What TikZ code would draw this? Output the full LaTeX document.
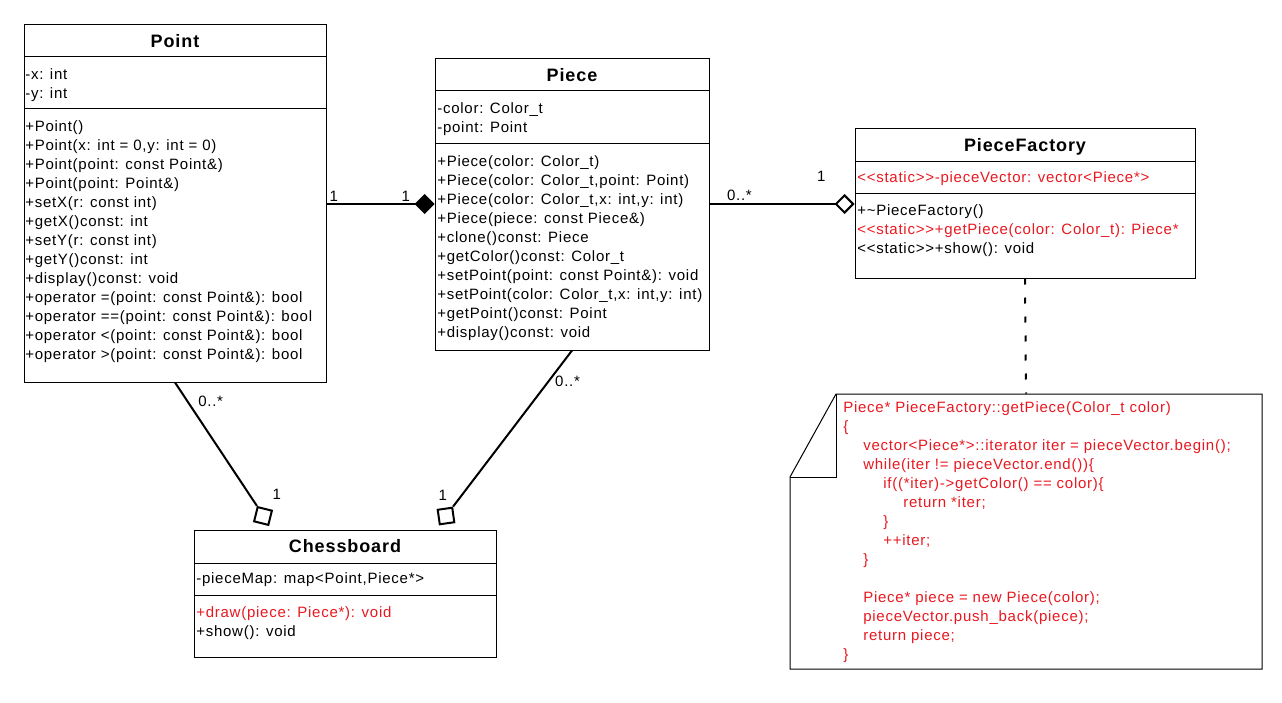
\documentclass[tikz,border=0pt]{standalone}
\usepackage{fontspec}
\setmainfont{Liberation Sans}[Ligatures=TeXOff, LetterSpace=5]
\usetikzlibrary{arrows.meta, fit}
\definecolor{codered}{RGB}{232,24,32}

\begin{document}
\begin{tikzpicture}[x=0.75pt, y=-0.75pt]

    \tikzstyle{classbox} = [draw, inner sep=0, line width=0.75pt];
    \tikzstyle{classtitle} = [anchor=base, inner sep=0, font=\fontsize{13.5}{16}\selectfont\bfseries];
    \tikzstyle{member} = [anchor=base west, inner sep=0, align=left, font=\fontsize{11.25}{14.25}\selectfont];
    \tikzstyle{mult} = [inner sep=1.5pt, font=\fontsize{11.25}{14.25}\selectfont];
    \tikzstyle{sqnode} = [draw, line width=1.5pt, minimum size=11pt, inner sep=0];
    \tikzstyle{link} = [line width=1.5pt];
    \tikzstyle{comp} = [line width=1.5pt, -{Diamond[length=15pt, width=15pt]}];
    \tikzstyle{agg} = [line width=1.5pt, -{Diamond[open, length=15pt, width=15pt]}];
    \tikzstyle{dashline} = [line width=1.5pt, dash pattern=on 4.5pt off 9.75pt];

    \useasboundingbox (0,0) rectangle (1282,703);

    % Point (member nodes sit on the baseline of their last line)
    \node[classbox, fit={(24,24) (326,382)}] (point) {};
    \draw (24,56) -- (326,56);
    \draw (24,108) -- (326,108);
    \node[classtitle] (pointname) at (175,47) {Point};
    \node[member] (pointattr) at (25,98) {-x: int\\-y: int};
    \node[member] (pointops) at (25,359) {+Point()\\+Point(x: int = 0,y: int = 0)\\+Point(point: const Point\&)\\+Point(point: Point\&)\\+setX(r: const int)\\+getX()const: int\\+setY(r: const int)\\+getY()const: int\\+display()const: void\\+operator =(point: const Point\&): bool\\+operator ==(point: const Point\&): bool\\+operator <(point: const Point\&): bool\\+operator >(point: const Point\&): bool};

    % Piece
    \node[classbox, fit={(435,58) (709,350)}] (piece) {};
    \draw (435,90) -- (709,90);
    \draw (435,143) -- (709,143);
    \node[classtitle] (piecename) at (572,81) {Piece};
    \node[member] (pieceattr) at (437,132) {-color: Color\_t\\-point: Point};
    \node[member] (pieceops) at (437,337) {+Piece(color: Color\_t)\\+Piece(color: Color\_t,point: Point)\\+Piece(color: Color\_t,x: int,y: int)\\+Piece(piece: const Piece\&)\\+clone()const: Piece\\+getColor()const: Color\_t\\+setPoint(point: const Point\&): void\\+setPoint(color: Color\_t,x: int,y: int)\\+getPoint()const: Point\\+display()const: void};

    % PieceFactory
    \node[classbox, fit={(855,128) (1195,278)}] (factory) {};
    \draw (855,161) -- (1195,161);
    \draw (855,193) -- (1195,193);
    \node[classtitle] (factoryname) at (1025,151) {PieceFactory};
    \node[member, text=codered] (factoryattr) at (857,182) {<<static>>-pieceVector: vector<Piece*>};
    \node[member] (factoryops) at (857,253) {+\textasciitilde PieceFactory()\\\textcolor{codered}{<<static>>+getPiece(color: Color\_t): Piece*}\\<<static>>+show(): void};

    % Chessboard
    \node[classbox, fit={(194,530) (496,657)}] (chess) {};
    \draw (194,563) -- (496,563);
    \draw (194,595) -- (496,595);
    \node[classtitle] (chessname) at (345,552) {Chessboard};
    \node[member] (chessattr) at (196,583) {-pieceMap: map<Point,Piece*>};
    \node[member] (chessops) at (196,636) {\textcolor{codered}{+draw(piece: Piece*): void}\\+show(): void};

    % note
    \node[fit={(790,394) (1262,669)}, inner sep=0] (note) {};
    \draw[line width=0.75pt] (836,394) -- (1262,394) -- (1262,669) -- (790,669) -- (790,477) -- cycle;
    \draw[line width=0.75pt] (836,394) -- (836,477) -- (790,477);
    \node[member, text=codered] (notetext) at (843,659) {Piece* PieceFactory::getPiece(Color\_t color)\\\{\\\hspace*{15pt}vector<Piece*>::iterator iter = pieceVector.begin();\\\hspace*{15pt}while(iter != pieceVector.end())\{\\\hspace*{30pt}if((*iter)->getColor() == color)\{\\\hspace*{45pt}return *iter;\\\hspace*{30pt}\}\\\hspace*{30pt}++iter;\\\hspace*{15pt}\}\\[14.25pt]\hspace*{15pt}Piece* piece = new Piece(color);\\\hspace*{15pt}pieceVector.push\_back(piece);\\\hspace*{15pt}return piece;\\\}};

    % squares at the chessboard
    \node[sqnode, rotate=-14] (sqL) at (263,516) {};
    \node[sqnode, rotate=8] (sqR) at (446,516) {};

    % connectors
    \draw[comp] (piece.west -| point.east) -- (piece.west) node[mult, pos=0, anchor=south west] {1} node[mult, pos=0.8, anchor=south east] {1};
    \draw[agg] (piece.east) -- (piece.east -| factory.west) node[mult, pos=0.1, anchor=south west] {0..*} node[mult, pos=0.82, anchor=south east, yshift=15pt] {1};
    \draw[link] (point.south) -- (sqL.north west) node[mult, pos=0.15, anchor=west, xshift=6pt] {0..*} node[mult, pos=0.91, anchor=west, xshift=15pt] {1};
    \draw[link] (piece.south) -- (sqR.north east) node[mult, pos=0.2, anchor=west, xshift=3pt] {0..*} node[mult, pos=0.925, anchor=east, xshift=-9pt] {1};
    \draw[dashline] (factory.south) -- (note.north);

\end{tikzpicture}
\end{document}
